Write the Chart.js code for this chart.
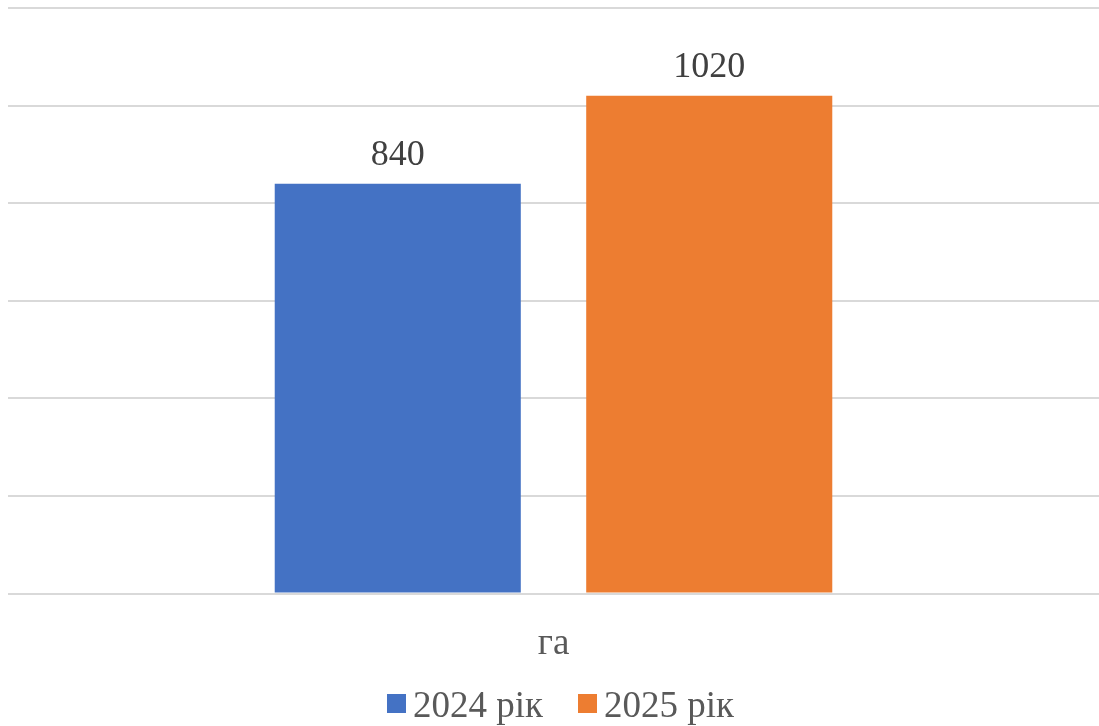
<!DOCTYPE html>
<html>
<head>
<meta charset="utf-8">
<script src="https://cdn.jsdelivr.net/npm/chart.js@4/dist/chart.umd.min.js"></script>
<style>
  html, body { margin: 0; padding: 0; background: #ffffff; }
  #wrap { width: 1099px; height: 726px; position: relative; }
</style>
</head>
<body>
<div id="wrap"><canvas id="chart"></canvas></div>
<script>
// Area under the crop, hectares
const categories = ['га'];
const seriesNames = ['2024 рік', '2025 рік'];
const values2024 = [840];
const values2025 = [1020];
const seriesColors = ['#4472C4', '#ED7D31'];
const yTicks = [0, 200, 400, 600, 800, 1000, 1200];

const serif = '"Liberation Serif", "Times New Roman", serif';

// Writes each bar's value above it
const valueLabels = {
  id: 'valueLabels',
  afterDatasetsDraw(chart) {
    const ctx = chart.ctx;
    ctx.save();
    ctx.font = '36px ' + serif;
    ctx.fillStyle = '#404040';
    ctx.textAlign = 'center';
    ctx.textBaseline = 'alphabetic';
    chart.data.datasets.forEach((ds, i) => {
      chart.getDatasetMeta(i).data.forEach((bar, j) => {
        ctx.fillText(String(ds.data[j]), bar.x, bar.y - 19);
      });
    });
    ctx.restore();
  }
};

// Compact legend row under the axis: square swatch, then the series name
const bottomLegend = {
  id: 'bottomLegend',
  afterDraw(chart) {
    const ctx = chart.ctx;
    const box = 19, gapText = 7, gapItem = 35;
    ctx.save();
    ctx.font = '37px ' + serif;
    ctx.textBaseline = 'alphabetic';
    ctx.textAlign = 'left';
    const items = chart.data.datasets.map(ds => ({
      text: ds.label, color: ds.backgroundColor, w: ctx.measureText(ds.label).width
    }));
    const total = items.reduce((s, it) => s + box + gapText + it.w, 0) + gapItem * (items.length - 1);
    const mid = (chart.chartArea.left + chart.chartArea.right) / 2 + 7;
    let x = mid - total / 2;
    const baseline = chart.height - 9;
    items.forEach(it => {
      ctx.fillStyle = it.color;
      ctx.fillRect(x, baseline - 23, box, box);
      x += box + gapText;
      ctx.fillStyle = '#595959';
      ctx.fillText(it.text, x, baseline);
      x += it.w + gapItem;
    });
    ctx.restore();
  }
};

new Chart(document.getElementById('chart'), {
  type: 'bar',
  data: {
    labels: categories,
    datasets: [
      { label: seriesNames[0], data: values2024, backgroundColor: seriesColors[0] },
      { label: seriesNames[1], data: values2025, backgroundColor: seriesColors[1] }
    ]
  },
  options: {
    responsive: true,
    maintainAspectRatio: false,
    animation: false,
    layout: { padding: { left: 8, right: 0, top: 8, bottom: 40 } },
    datasets: { bar: { categoryPercentage: 0.571, barPercentage: 0.79 } },
    scales: {
      x: {
        grid: { display: false },
        border: { display: false },
        ticks: { color: '#595959', font: { family: serif, size: 37 }, padding: 20 }
      },
      y: {
        min: 0,
        max: 1200,
        afterBuildTicks(axis) { axis.ticks = yTicks.map(v => ({ value: v })); },
        afterFit(axis) { axis.width = 0; },
        grid: { color: '#d9d9d9', lineWidth: 2, drawTicks: false },
        border: { display: false },
        ticks: { display: false }
      }
    },
    plugins: {
      legend: { display: false },
      tooltip: { enabled: false }
    }
  },
  plugins: [valueLabels, bottomLegend]
});
</script>
</body>
</html>
